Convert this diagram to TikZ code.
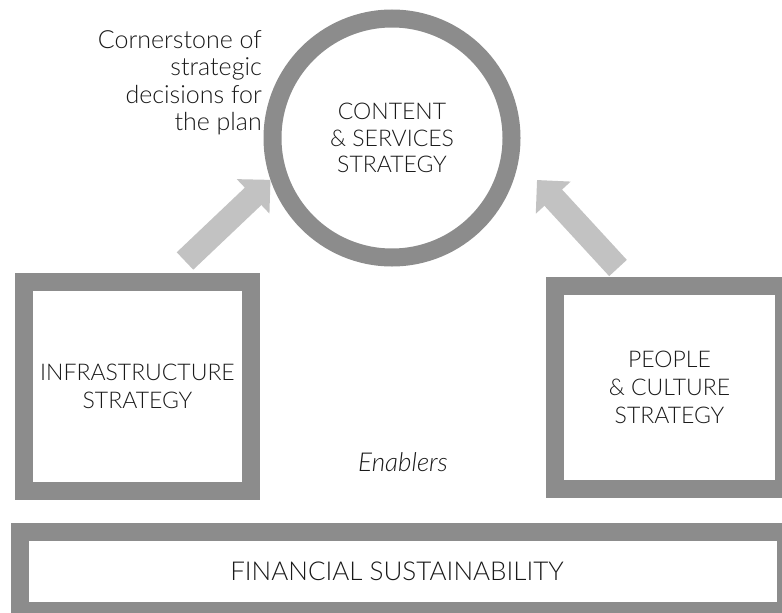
\documentclass[tikz,border=0pt]{standalone}
\usepackage{fontspec}
\setmainfont{Lato}[UprightFont={* Light},ItalicFont={* Light Italic}]
\usetikzlibrary{calc}
\usetikzlibrary{arrows.meta}
\colorlet{ringgray}{black!45}
\colorlet{arrowgray}{black!24}
\tikzset{
    frame/.style={draw=ringgray,line width=18pt,rectangle,align=center,inner sep=0pt,
        font=\fontsize{23}{28}\selectfont,text=black!90},
    ring/.style={frame,circle,font=\fontsize{23}{26.5}\selectfont},
    bigarrow/.style={draw=arrowgray,line width=24pt,-{Triangle[length=24pt,width=46pt]}}
}
\begin{document}
\begin{tikzpicture}[x=1pt,y=-1pt]
                \useasboundingbox (0,0) rectangle (782,613);
                \clip (0,0) rectangle (782,613);
                \node[ring,minimum size=239pt] (content) at (392,138) {CONTENT\\\& SERVICES\\STRATEGY};
                \node[frame,minimum width=227pt,minimum height=209pt] (infra) at (137.5,386.5) {INFRASTRUCTURE\\STRATEGY};
                \node[frame,minimum width=229pt,minimum height=203pt] (people) at (669.5,387.5) {PEOPLE\\\& CULTURE\\STRATEGY};
                \node[frame,minimum width=766pt,minimum height=79pt,font=\fontsize{26}{28}\selectfont] (finance) at (403,571.5) {FINANCIAL SUSTAINABILITY\hspace*{12pt}};
                \node[anchor=north east,inner sep=0pt,align=right,text=black!90,
                    font=\fontsize{25}{27.5}\selectfont] (corner) at (262,30) {Cornerstone of\\strategic\\decisions for\\the plan};
                \node[inner sep=0pt,text=black!90,font=\fontsize{26}{28}\selectfont\itshape] (enablers) at (403,462) {Enablers};
                \coordinate (infratop) at ($(infra.north)+(47.5,-12)$);
                \coordinate (peopletop) at ($(people.north)+(-51.5,-9)$);
                \coordinate (rightgap) at ($(content.center)+(145,42)$);
                \draw[bigarrow] (infratop) -- (content.199);
                \draw[bigarrow] (peopletop) -- (rightgap);
\end{tikzpicture}
\end{document}
